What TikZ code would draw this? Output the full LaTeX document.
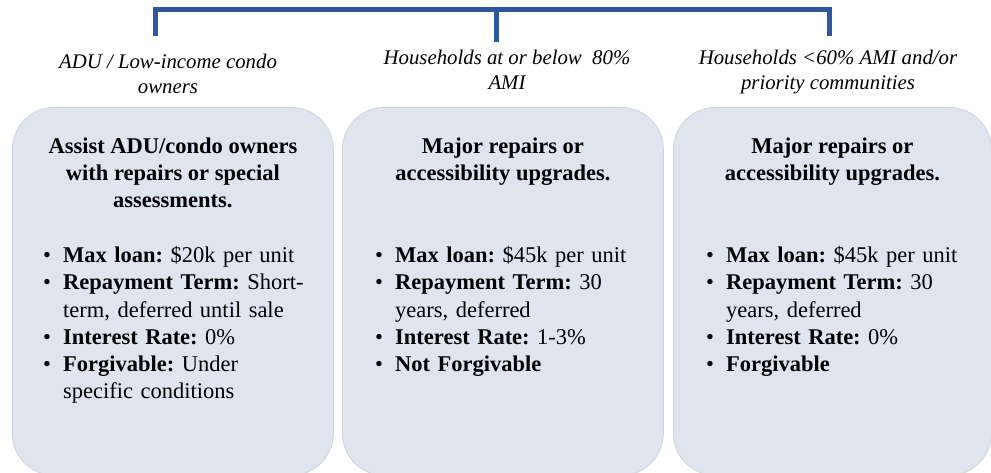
\documentclass[tikz,border=0pt]{standalone}
\definecolor{bracketblue}{RGB}{47,85,155}
\definecolor{panelfill}{RGB}{222,229,239}
\definecolor{paneledge}{RGB}{206,212,222}
\usepackage{fontspec}
\setmainfont{Liberation Serif}
\usetikzlibrary{positioning,calc}

% one bullet line of a loan panel: bold key, then plain text
\newcommand{\loanpt}[2]{\par\noindent\hangindent=23pt\hangafter=1%
  \makebox[23pt][l]{\hspace{3pt}\textbullet}\textbf{#1}#2\par}

\tikzset{
  bracket/.style={draw=bracketblue, line width=5pt},
  grouplabel/.style={align=center, inner sep=0pt, anchor=north,
    font=\fontsize{20.8}{25}\selectfont\itshape},
  panel/.style={fill=panelfill, draw=paneledge, line width=0.8pt,
    rounded corners=42pt, minimum width=321pt, minimum height=368pt,
    anchor=north west, inner sep=0pt},
  paneltitle/.style={align=center, inner sep=0pt, anchor=north,
    font=\fontsize{22.5}{27}\selectfont\bfseries},
  panellist/.style={text width=300pt, inner sep=0pt, anchor=north west,
    font=\fontsize{22.5}{27.3}\selectfont\raggedright}
}

\begin{document}
\frenchspacing
\begin{tikzpicture}[x=1pt,y=-1pt]
  \useasboundingbox (0,0) rectangle (991,473);
  \clip (0,0) rectangle (991,473);

  % target groups
  \node[grouplabel] (grp1) at (168,54) {ADU / Low-income condo\\owners};
  \node[grouplabel] (grp2) at (507,50) {Households at or below~~80\%\\AMI};
  \node[grouplabel] (grp3) at (828,50) {Households <60\% AMI and/or\\priority communities};

  % bracket over the three groups
  \coordinate (brL) at (155,36);
  \coordinate (brM) at (496,42);
  \coordinate (brR) at (829,36);
  \draw[bracket] (brL) |- (brR |- 0,10) -- (brR);
  \draw[bracket] (brM) -- (brM |- 0,10);

  % the three loan panels
  \node[panel] (box1) at (12,107) {};
  \node[panel] (box2) at (342,107) {};
  \node[panel, minimum width=318pt] (box3) at (673,107) {};

  \node[paneltitle] (title1) at ([yshift=-31pt]box1.north)
    {Assist ADU/condo owners\\with repairs or special\\assessments.};
  \node[paneltitle] (title2) at ([yshift=-31pt]box2.north)
    {Major repairs or\\accessibility upgrades.};
  \node[paneltitle] (title3) at ([yshift=-31pt]box3.north)
    {Major repairs or\\accessibility upgrades.};

  \node[panellist] (list1) at ([xshift=28pt,yshift=-128pt]box1.north west) {%
    \loanpt{Max loan:}{ \$20k per unit}
    \loanpt{Repayment Term:}{ Short-\newline term, deferred until sale}
    \loanpt{Interest Rate:}{ 0\%}
    \loanpt{Forgivable:}{ Under\newline specific conditions}};
  \node[panellist] (list2) at ([xshift=30pt,yshift=-128pt]box2.north west) {%
    \loanpt{Max loan:}{ \$45k per unit}
    \loanpt{Repayment Term:}{ 30\newline years, deferred}
    \loanpt{Interest Rate:}{ 1-3\%}
    \loanpt{Not Forgivable}{}};
  \node[panellist] (list3) at ([xshift=30pt,yshift=-128pt]box3.north west) {%
    \loanpt{Max loan:}{ \$45k per unit}
    \loanpt{Repayment Term:}{ 30\newline years, deferred}
    \loanpt{Interest Rate:}{ 0\%}
    \loanpt{Forgivable}{}};
\end{tikzpicture}
\end{document}
